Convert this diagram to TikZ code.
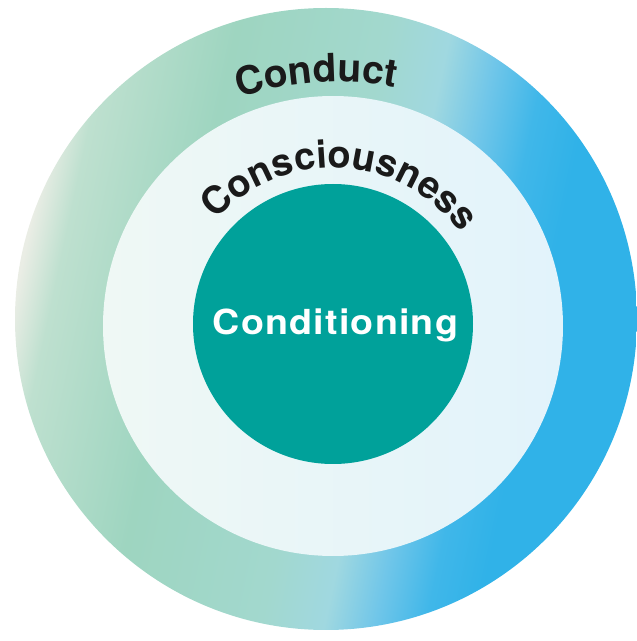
\documentclass[tikz,border=0pt]{standalone}
\usepackage{fontspec}
\newfontfamily\heros{TeX Gyre Heros}
\usetikzlibrary{decorations.text}

\definecolor{condteal}{HTML}{00A19A}
\definecolor{inkblack}{HTML}{1A1A1A}
\definecolor{paleleft}{HTML}{EFF8F5}
\definecolor{paleright}{HTML}{E2F3FB}
\definecolor{wcpink}{RGB}{234,237,229}
\definecolor{wcmintlight}{RGB}{190,224,207}
\definecolor{wcmint}{RGB}{158,213,192}
\definecolor{wcmintcyan}{RGB}{162,216,206}
\definecolor{wccyan}{RGB}{160,216,224}
\definecolor{wcskylight}{RGB}{112,198,233}
\definecolor{wcsky}{RGB}{64,183,233}
\definecolor{wcblue}{RGB}{48,178,232}

% watercolour ring, mint on the left, blue on the right
\pgfdeclarehorizontalshading{watercolor}{100bp}{%
    color(0bp)=(wcpink);
    color(25bp)=(wcpink);
    color(28bp)=(wcmintlight);
    color(38bp)=(wcmint);
    color(50bp)=(wcmintcyan);
    color(55bp)=(wccyan);
    color(59bp)=(wcskylight);
    color(63bp)=(wcsky);
    color(67bp)=(wcblue);
    color(100bp)=(wcblue)}

\newcommand{\conductfont}{\heros\bfseries\fontsize{39}{42}\selectfont\color{inkblack}}
\newcommand{\consfont}{\heros\bfseries\fontsize{38}{41}\selectfont\color{inkblack}}
\newcommand{\condfont}{\heros\bfseries\fontsize{34.5}{38}\selectfont\addfontfeatures{LetterSpace=3.5,FakeStretch=1.09}}

\begin{document}
\begin{tikzpicture}
    [
        x = 1pt, y = 1pt,
        disc/.style = {circle, draw=none, inner sep=0pt},
        arctext/.style = {decorate, decoration={text along path, text align=center, text={#1}}}
    ]
    \useasboundingbox (0,0) rectangle (637,641);

    \node [disc, minimum size=622pt, shading=watercolor, shading angle=-12] at (326,322) (conduct) {};
    \node [disc, minimum size=460pt, left color=paleleft, right color=paleright] at (333,315) (consciousness) {};
    \node [disc, minimum size=280pt, fill=condteal] at (333,317) (conditioning) {};

    \coordinate (conductcenter) at (338,241);
    \coordinate (conscenter) at (333,315);

    \path [arctext={|\conductfont|Conduct}] (conductcenter) ++(140:318) arc [start angle=140, end angle=47.6, radius=318];
    \path [arctext={|\consfont|Consciousness}] (conscenter) ++(177:158) arc [start angle=177, end angle=-3, radius=158];

    \node [anchor=base, text=white, font=\condfont] at (335.5,306) (conditioninglabel) {Conditioning};
\end{tikzpicture}
\end{document}
